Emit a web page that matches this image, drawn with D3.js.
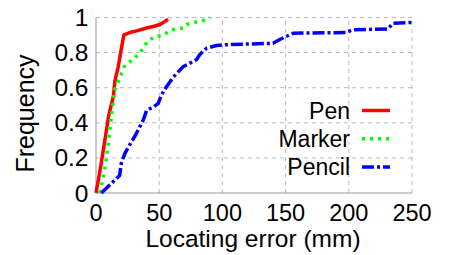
<!DOCTYPE html>
<html>
<head>
<meta charset="utf-8">
<script src="https://cdn.jsdelivr.net/npm/d3@7"></script>
<style>
  body { margin: 0; background: #fff; }
  text { font-family: "Liberation Sans", Arial, sans-serif; fill: #000; }
</style>
</head>
<body>
<div id="D3"></div>
<script>
// tick labels
var xTicks = [0, 50, 100, 150, 200, 250];
var yTicks = [0, 0.2, 0.4, 0.6, 0.8, 1];

// series names (legend order)
var seriesNames = ["Pen", "Marker", "Pencil"];

// Pen: locating error (mm) vs cumulative frequency
var penErr  = [0, 3, 7, 10, 13.7, 15, 17.6, 20, 22, 27, 33, 40, 46, 50.6, 54, 57];
var penFreq = [0, 0.12, 0.30, 0.44, 0.55, 0.64, 0.72, 0.82, 0.90, 0.915, 0.925, 0.94, 0.95, 0.96, 0.975, 0.99];

// Marker
var markerErr  = [3, 5.8, 8, 9.7, 12.4, 15, 19, 22.9, 29.5, 36, 41.3, 47, 53.2, 59.8, 69, 71.7, 76.9, 88.8, 90];
var markerFreq = [0, 0.09, 0.19, 0.28, 0.45, 0.59, 0.66, 0.73, 0.76, 0.81, 0.87, 0.89, 0.90, 0.93, 0.94, 0.96, 0.97, 0.99, 1.0];

// Pencil
var pencilErr  = [4.2, 10.8, 18.7, 20, 22.9, 25.5, 32, 37.4, 40, 45.3, 49.2, 51.9, 55.8, 61.1, 69, 74.3, 79.5, 82.2, 87.5, 95.4, 103, 140, 145.4, 156, 198, 203, 231, 235, 248, 250];
var pencilFreq = [0, 0.045, 0.10, 0.17, 0.226, 0.26, 0.34, 0.416, 0.47, 0.49, 0.51, 0.56, 0.605, 0.66, 0.72, 0.74, 0.76, 0.79, 0.825, 0.84, 0.845, 0.853, 0.875, 0.91, 0.915, 0.93, 0.935, 0.967, 0.972, 0.972];

var colors = ["#ff0000", "#00ff00", "#0000ff"];
var dashes = [null, "3,5", "12,3,3,3"];

var W = 455, H = 255;
var margin = {left: 96, right: 43, top: 17.5, bottom: 62};

var svg = d3.select("#D3").append("svg")
  .attr("width", W)
  .attr("height", H);

var x = d3.scaleLinear().domain([0, 250]).range([margin.left, W - margin.right]);
var y = d3.scaleLinear().domain([0, 1]).range([H - margin.bottom, margin.top]);

// grid
svg.append("g").selectAll("line")
  .data(yTicks.filter(function (d) { return d > 0; }))
  .enter().append("line")
  .attr("x1", x(0)).attr("x2", x(250))
  .attr("y1", function (d) { return y(d); })
  .attr("y2", function (d) { return y(d); })
  .attr("stroke", "#bbbbbb")
  .attr("stroke-dasharray", "4,4");

svg.append("g").selectAll("line")
  .data(xTicks.filter(function (d) { return d > 0; }))
  .enter().append("line")
  .attr("x1", function (d) { return x(d); })
  .attr("x2", function (d) { return x(d); })
  .attr("y1", y(0)).attr("y2", y(1))
  .attr("stroke", "#bbbbbb")
  .attr("stroke-dasharray", "4,4");

// axes (left + bottom border)
svg.append("line")
  .attr("x1", x(0)).attr("x2", x(0)).attr("y1", y(0)).attr("y2", y(1))
  .attr("stroke", "#999999");
svg.append("line")
  .attr("x1", x(0)).attr("x2", x(250)).attr("y1", y(0)).attr("y2", y(0))
  .attr("stroke", "#999999");

// tick labels
svg.append("g").selectAll("text")
  .data(xTicks)
  .enter().append("text")
  .attr("x", function (d) { return x(d); })
  .attr("y", 220.5)
  .attr("text-anchor", "middle")
  .attr("font-size", 23.5)
  .text(function (d) { return d; });

svg.append("g").selectAll("text")
  .data(yTicks)
  .enter().append("text")
  .attr("x", 88.5)
  .attr("y", function (d) { return y(d) + 8.5; })
  .attr("text-anchor", "end")
  .attr("font-size", 24.5)
  .text(function (d) { return d; });

// axis titles
svg.append("text")
  .attr("x", x(125) - 1)
  .attr("y", 247)
  .attr("text-anchor", "middle")
  .attr("font-size", 24.5)
  .text("Locating error (mm)");

svg.append("text")
  .attr("transform", "translate(34,113.5) rotate(-90)")
  .attr("text-anchor", "middle")
  .attr("font-size", 25)
  .text("Frequency");

// curves
svg.append("clipPath").attr("id", "clip")
  .append("rect")
  .attr("x", x(0) - 3).attr("y", y(1) - 3)
  .attr("width", x(250) - x(0) + 6).attr("height", y(0) - y(1) + 6);

var series = [
  d3.zip(penErr, penFreq),
  d3.zip(markerErr, markerFreq),
  d3.zip(pencilErr, pencilFreq)
];

var line = d3.line()
  .x(function (d) { return x(d[0]); })
  .y(function (d) { return y(d[1]); });

var plot = svg.append("g").attr("clip-path", "url(#clip)");
for (var i = 0; i < series.length; i++) {
  plot.append("path")
    .datum(series[i])
    .attr("d", line)
    .attr("fill", "none")
    .attr("stroke", colors[i])
    .attr("stroke-width", 3.5)
    .attr("stroke-dasharray", dashes[i]);
}

// legend
var legend = svg.append("g");
for (var i = 0; i < seriesNames.length; i++) {
  var ly = 110.5 + i * 28.3;
  legend.append("text")
    .attr("x", 350)
    .attr("y", ly + 8)
    .attr("text-anchor", "end")
    .attr("font-size", 23)
    .text(seriesNames[i]);
  legend.append("line")
    .attr("x1", 362).attr("x2", 390)
    .attr("y1", ly).attr("y2", ly)
    .attr("stroke", colors[i])
    .attr("stroke-width", 3.5)
    .attr("stroke-dasharray", dashes[i]);
}
</script>
</body>
</html>
